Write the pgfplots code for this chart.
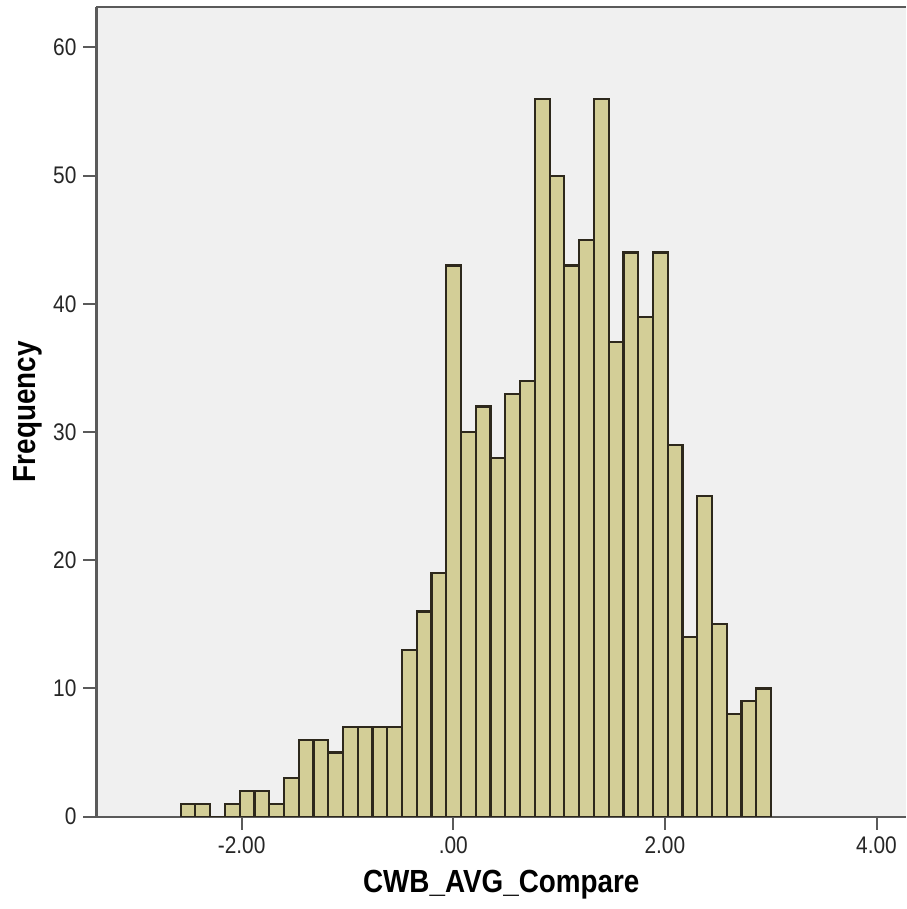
\documentclass[border=0pt]{standalone}
\usepackage{pgfplots}
\pgfplotsset{compat=1.18}
\usepackage{fontspec}
\setmainfont{Liberation Sans}[FakeStretch=0.87]

\definecolor{barfill}{RGB}{211,206,151}
\definecolor{bgfill}{RGB}{240,240,240}
\definecolor{edge}{RGB}{45,40,28}
\definecolor{axisgray}{RGB}{90,90,90}

\begin{document}
\begin{tikzpicture}
\begin{axis}[
  scale only axis, width=404.75pt, height=405pt,
  xmin=-3.372, xmax=4.279, ymin=0, ymax=63.18,
  axis background/.style={fill=bgfill},
  axis x line*=box, axis y line*=left,
  axis line style={axisgray, line width=1.1pt},
  xtick={-2,0,2,4}, xticklabels={-2.00,.00,2.00,4.00},
  ytick={0,10,20,30,40,50,60}, yticklabels={0,10,20,30,40,50,60},
  xtick pos=bottom, ytick pos=left, tick align=outside,
  major tick length=6.5pt,
  tick style={axisgray, line width=1pt},
  ticklabel style={font=\fontsize{12}{14}\selectfont, text=black!85},
  xlabel={CWB\_AVG\_Compare}, ylabel={Frequency},
  label style={font=\bfseries\fontsize{16}{19}\selectfont},
  xlabel style={at={(axis description cs:0.5,-0.0942)}, anchor=base, inner sep=0pt},
  ylabel style={at={(axis description cs:-0.0661,0.5)}, anchor=south, inner sep=0pt},
]
% bin left edges, last entry closes the final bin
\addplot[ybar interval, fill=barfill, draw=edge, line width=1.1pt] coordinates {
  (-2.577,1) (-2.4375,1) (-2.298,0) (-2.1585,1) (-2.019,2)
  (-1.8795,2) (-1.740,1) (-1.6005,3) (-1.461,6) (-1.3215,6)
  (-1.182,5) (-1.0425,7) (-0.903,7) (-0.7635,7) (-0.624,7)
  (-0.4845,13) (-0.345,16) (-0.2055,19) (-0.066,43) (0.0735,30)
  (0.213,32) (0.3525,28) (0.492,33) (0.6315,34) (0.771,56)
  (0.9105,50) (1.050,43) (1.1895,45) (1.329,56) (1.4685,37)
  (1.608,44) (1.7475,39) (1.887,44) (2.0265,29) (2.166,14)
  (2.3055,25) (2.445,15) (2.5845,8) (2.724,9) (2.8635,10)
  (3.003,10)
};
\coordinate (sw) at (rel axis cs:0,0);
\coordinate (ne) at (rel axis cs:1,1);
\end{axis}
\pgfresetboundingbox
\useasboundingbox ([xshift=-48.25pt,yshift=-46.15pt]sw) rectangle ([yshift=3.35pt]ne);
\end{tikzpicture}
\end{document}
